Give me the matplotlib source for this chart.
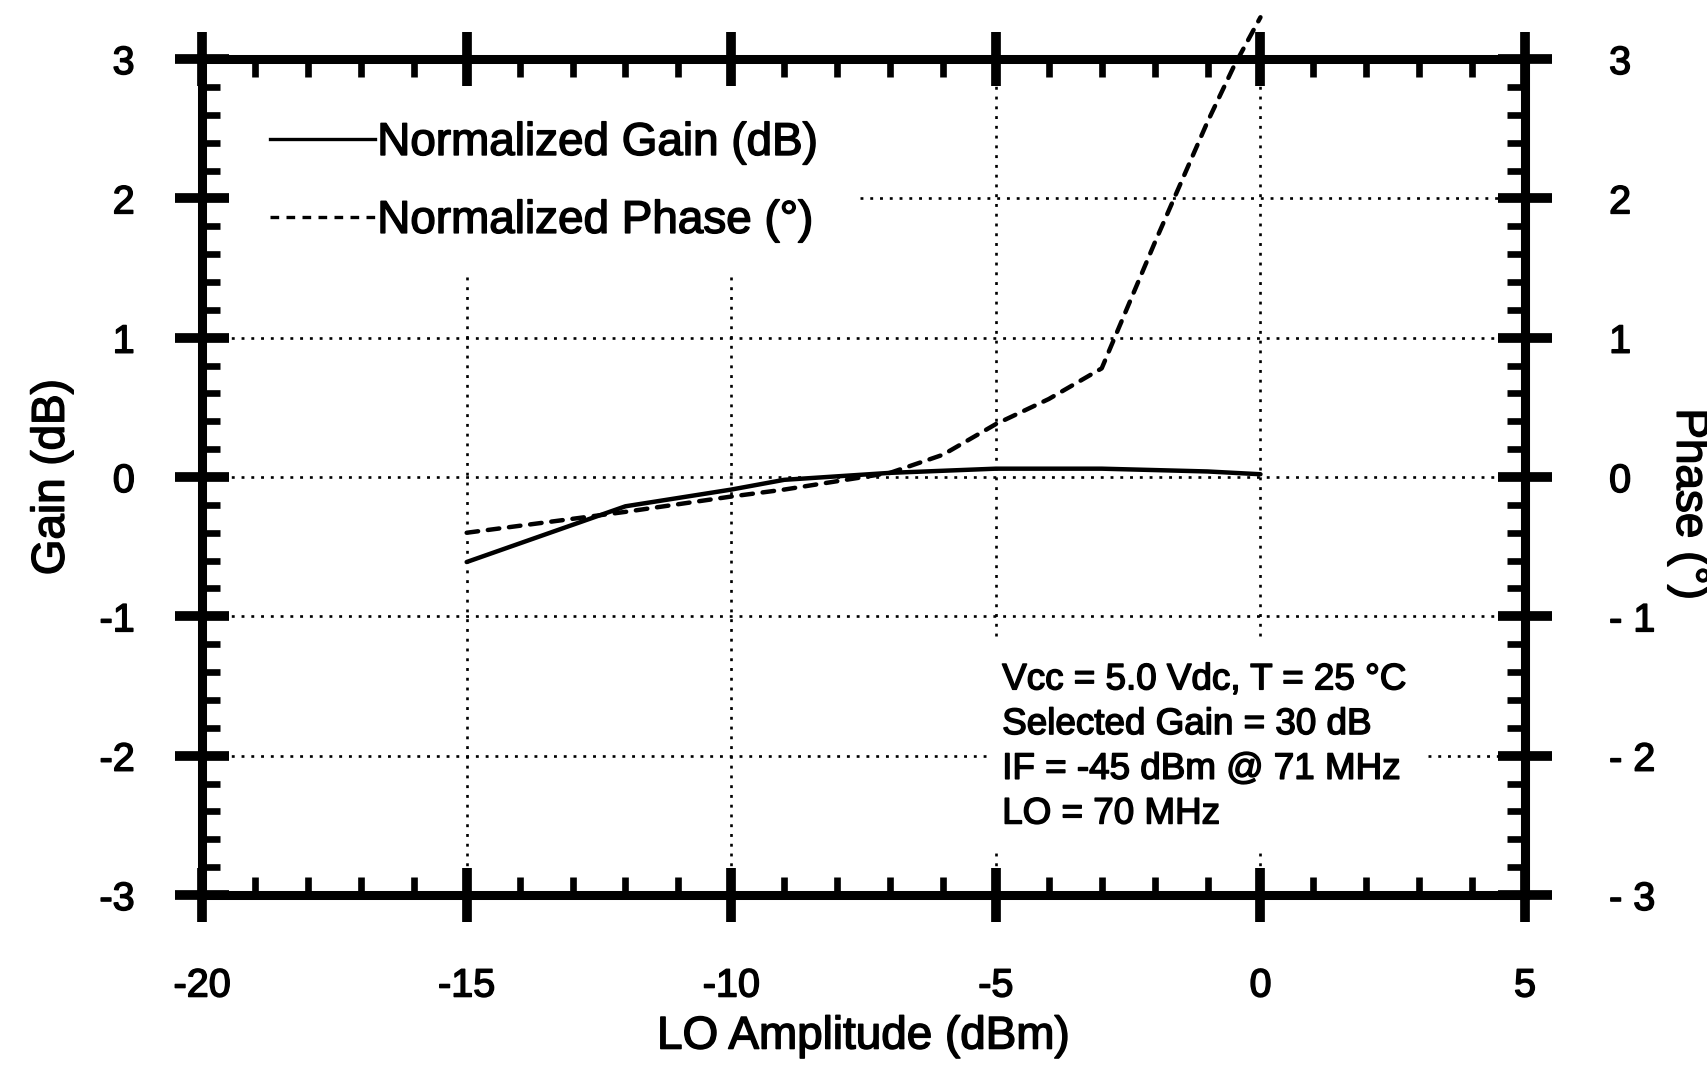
import matplotlib
matplotlib.use("Agg")
import matplotlib.pyplot as plt
import matplotlib.patheffects as pe
from matplotlib.lines import Line2D
from matplotlib.ticker import FixedLocator, MultipleLocator

plt.rcParams['font.family'] = ['Liberation Sans', 'DejaVu Sans']

# LO drive level (dBm) and normalized responses
lo_gain = [-15, -12, -10, -9, -7, -5, -3, -1, 0]
gain_db = [-0.61, -0.21, -0.09, -0.02, 0.03, 0.06, 0.06, 0.04, 0.02]

lo_phase = [-15, -12, -10, -9, -8, -7, -6, -5, -4, -3, -2.7, -2, -1, -0.5, 0.0]
phase_deg = [-0.40, -0.25, -0.14, -0.09, -0.03, 0.03, 0.16, 0.38, 0.56, 0.78,
             1.05, 1.68, 2.55, 2.95, 3.30]

x_ticks = [-20, -15, -10, -5, 0, 5]
x_labels = ["-20", "-15", "-10", "-5", "0", "5"]
y_ticks = [-3, -2, -1, 0, 1, 2, 3]
gain_labels = ["-3", "-2", "-1", "0", "1", "2", "3"]
phase_labels = ["- 3", "- 2", "- 1", "0", "1", "2", "3"]

conditions = ("Vcc = 5.0 Vdc, T = 25 \u00b0C\n"
              "Selected Gain = 30 dB\n"
              "IF = -45 dBm @ 71 MHz\n"
              "LO = 70 MHz")

# slightly heavier glyphs, like printed datasheet lettering
heavy = [pe.withStroke(linewidth=1.1, foreground='black')]

fig = plt.figure(figsize=(17.08, 10.66), dpi=100)
ax = fig.add_axes([0.1183, 0.1604, 0.7746, 0.7842])
ax.set_xlim(-20, 5)
ax.set_ylim(-3, 3)

# dotted grid, broken where the legend and the conditions block sit
grid_kw = dict(color='black', lw=1.9, linestyle=(0, (1.1, 2.6)), zorder=1)
for yv, spans in [(2, [(0.497, 1.0)]), (1, [(0, 1)]), (0, [(0, 1)]),
                  (-1, [(0, 1)]), (-2, [(0, 0.593), (0.927, 1.0)])]:
    for a, b in spans:
        ax.axhline(yv, a, b, **grid_kw)
for xv, spans in [(-15, [(0, 0.745)]), (-10, [(0, 0.745)]),
                  (-5, [(0, 0.055), (0.31, 1.0)]), (0, [(0, 0.055), (0.31, 1.0)])]:
    for a, b in spans:
        ax.axvline(xv, a, b, **grid_kw)

ax.plot(lo_gain, gain_db, color='black', lw=3.2, zorder=3,
        solid_capstyle='round', solid_joinstyle='round')

ax.xaxis.set_major_locator(FixedLocator(x_ticks))
ax.set_xticklabels(x_labels)
ax.xaxis.set_minor_locator(MultipleLocator(1))
ax.yaxis.set_major_locator(FixedLocator(y_ticks))
ax.set_yticklabels(gain_labels)
ax.yaxis.set_minor_locator(MultipleLocator(0.2))

ax.tick_params(which='major', direction='inout', length=39, width=7,
               labelsize=28.5, top=True, bottom=True, left=True, right=False)
ax.tick_params(axis='x', which='major', pad=32)
ax.tick_params(axis='y', which='major', pad=29)
ax.tick_params(which='minor', direction='in', length=13, width=4.8,
               top=True, bottom=True, left=True, right=False)
for sp in ax.spines.values():
    sp.set_linewidth(6.5)

ax.set_xlabel("LO Amplitude (dBm)", fontsize=33)
ax.xaxis.set_label_coords(0.5, -0.143)
ax.set_ylabel("Gain (dB)", fontsize=33)
ax.yaxis.set_label_coords(-0.097, 0.5)

# phase on its own right-hand scale
axp = ax.twinx()
axp.set_ylim(-3, 3)
axp.plot(lo_phase, phase_deg, color='black', lw=3.2, zorder=3,
         linestyle=(0, (2.6, 2.2)), dash_capstyle='round', clip_on=False)
axp.yaxis.set_major_locator(FixedLocator(y_ticks))
axp.set_yticklabels(phase_labels)
axp.yaxis.set_minor_locator(MultipleLocator(0.2))
axp.tick_params(which='major', direction='inout', length=39, width=7,
                labelsize=28.5, pad=41, left=False, right=True)
axp.tick_params(which='minor', direction='in', length=13, width=4.8,
                left=False, right=True)
for name, sp in axp.spines.items():
    sp.set_visible(name == 'right')
    sp.set_linewidth(6.5)

phase_title = fig.text(0.989, 0.527, "Phase (\u00b0)", rotation=270,
                       fontsize=33, ha='center', va='center')

handles = [Line2D([], [], color='black', lw=2.4),
           Line2D([], [], color='black', lw=2.4, linestyle=(0, (2.6, 2.2)))]
leg = ax.legend(handles, ["Normalized Gain (dB)", "Normalized Phase (\u00b0)"],
                loc='upper left', bbox_to_anchor=(0.051, 0.926), frameon=False,
                borderpad=0, borderaxespad=0, handlelength=2.3,
                handletextpad=0.05, labelspacing=0.74, fontsize=33)

note = ax.text(-4.88, -1.33, conditions, fontsize=26.5, va='top', ha='left',
               linespacing=1.36, zorder=4)

texts = (ax.get_xticklabels() + ax.get_yticklabels() + axp.get_yticklabels()
         + [ax.xaxis.label, ax.yaxis.label, phase_title, note]
         + leg.get_texts())
for t in texts:
    t.set_path_effects(heavy)

fig.savefig("out.png", dpi=100)
